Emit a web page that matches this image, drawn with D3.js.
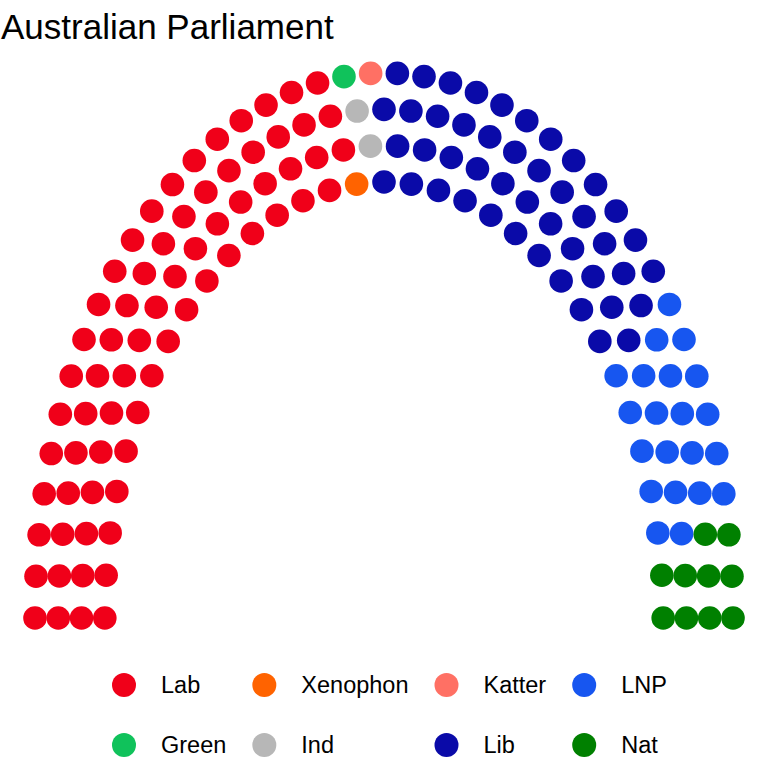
<!DOCTYPE html>
<html>
<head>
<meta charset="utf-8">
<script src="https://cdn.jsdelivr.net/npm/d3@7"></script>
<style>
  html, body { margin: 0; padding: 0; background: #fff; }
  svg { display: block; font-family: "Liberation Sans", Arial, Helvetica, sans-serif; }
</style>
</head>
<body>
<svg id="chart" width="768" height="768"></svg>
<script>
// ---- data ----
const title = "Australian Parliament";
const parties = ["Lab", "Green", "Xenophon", "Ind", "Katter", "Lib", "LNP", "Nat"];
const seats = [69, 1, 1, 2, 1, 45, 21, 10];
const colors = ["#F00019", "#10C25B", "#FF6300", "#B7B7B7", "#FF7064", "#0A0AA8", "#1756F0", "#008000"];
const parlRows = 4;
const radiusLimits = [0.8, 1];

// ---- seat layout (semicircle) ----
function calcCoordinates(N, M, limits) {
  const radii = d3.range(M).map(i => limits[0] + (limits[1] - limits[0]) * i / (M - 1));
  const pts = [];
  let remaining = N;
  for (let i = 0; i < M; i++) {
    const count = Math.round(remaining * radii[i] / d3.sum(radii.slice(i)));
    for (let k = 0; k < count; k++) {
      const theta = count === 1 ? 0 : Math.PI * k / (count - 1);
      pts.push({ x: radii[i] * Math.cos(theta), y: radii[i] * Math.sin(theta), row: i + 1, theta });
    }
    remaining -= count;
  }
  pts.sort((a, b) => (b.theta - a.theta) || (b.row - a.row));
  return pts;
}

const total = d3.sum(seats);
const pts = calcCoordinates(total, parlRows, radiusLimits);
const partyOfSeat = [];
parties.forEach((p, i) => { for (let k = 0; k < seats[i]; k++) partyOfSeat.push(i); });
pts.forEach((d, i) => d.party = partyOfSeat[i]);

// ---- scales ----
const svg = d3.select("#chart");
const x = d3.scaleLinear().domain([-1, 1]).range([35, 733]);
const y = d3.scaleLinear().domain([0, 1]).range([618, 73]);
const color = d3.scaleOrdinal().domain(parties).range(colors);

svg.append("text")
  .attr("x", 1).attr("y", 39)
  .attr("font-size", 35)
  .attr("fill", "#000")
  .text(title);

svg.append("g").selectAll("circle")
  .data(pts)
  .join("circle")
  .attr("cx", d => x(d.x))
  .attr("cy", d => y(d.y))
  .attr("r", 11.8)
  .attr("fill", d => color(parties[d.party]));

// ---- legend (2 rows, filled by column) ----
const legend = svg.append("g");
const rowY = [685, 745];
const nCols = Math.ceil(parties.length / 2);
let colX = 124;
for (let c = 0; c < nCols; c++) {
  let maxW = 0;
  for (let r = 0; r < 2; r++) {
    const i = c * 2 + r;
    if (i >= parties.length) continue;
    legend.append("circle")
      .attr("cx", colX).attr("cy", rowY[r]).attr("r", 12)
      .attr("fill", color(parties[i]));
    const t = legend.append("text")
      .attr("x", colX + 37).attr("y", rowY[r])
      .attr("dy", "0.36em")
      .attr("font-size", 23.5)
      .attr("fill", "#000")
      .text(parties[i]);
    maxW = Math.max(maxW, t.node().getComputedTextLength());
  }
  colX = colX + 37 + maxW + 38;
}
</script>
</body>
</html>
